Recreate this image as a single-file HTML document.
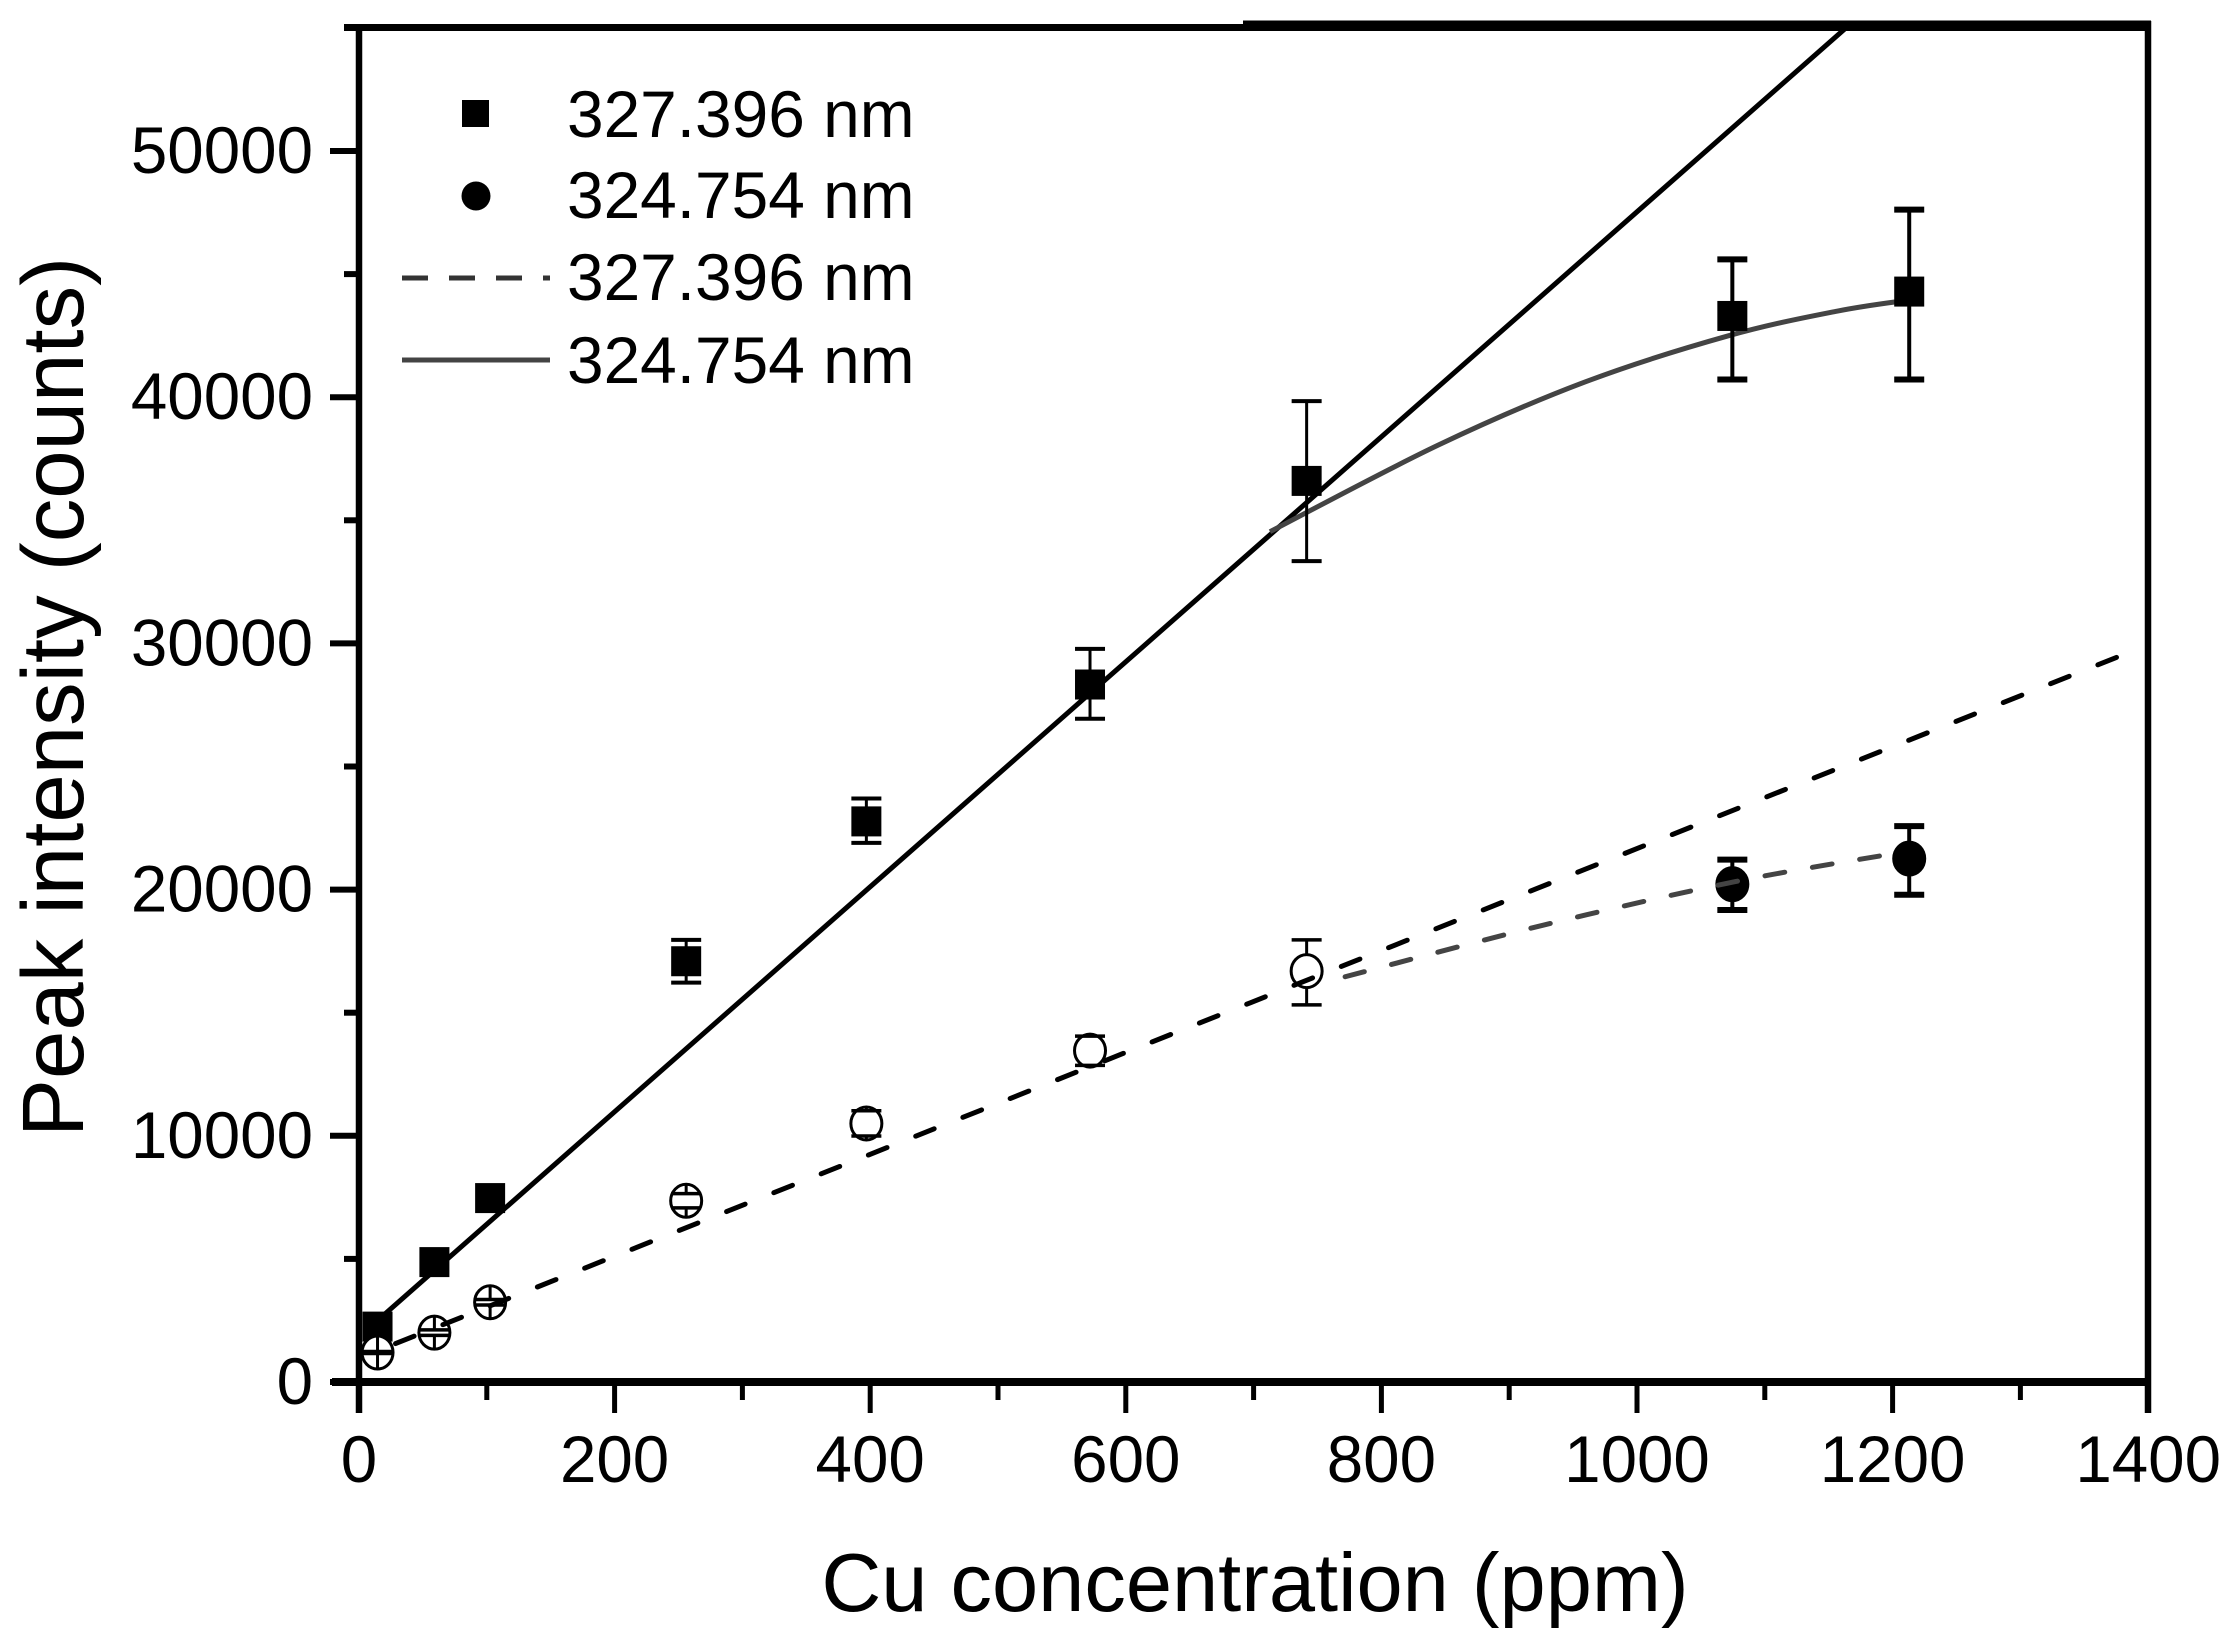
<!DOCTYPE html>
<html lang="en">
<head>
<meta charset="utf-8">
<title>Peak intensity vs Cu concentration</title>
<style>
html,body{margin:0;padding:0;background:#fff;}
svg{display:block;}
text{font-family:"Liberation Sans",sans-serif;fill:#000;}
</style>
</head>
<body>
<svg id="chart" xmlns="http://www.w3.org/2000/svg" width="2232" height="1649" viewBox="0 0 2232 1649">
  <rect x="0" y="0" width="2232" height="1649" fill="#fff"/>
  <g id="fits"></g>
  <g id="squares"></g>
  <g id="circles"></g>
  <g id="dashes"></g>
  <g id="axes"></g>
  <text x="1255" y="1611" font-size="83" text-anchor="middle">Cu concentration (ppm)</text>
  <text transform="translate(83,697) rotate(-90)" font-size="87" text-anchor="middle">Peak intensity (counts)</text>
  <g>
    <rect x="462" y="100" width="27" height="27" fill="#000"/>
    <text x="567" y="137" font-size="65.8">327.396 nm</text>
    <ellipse cx="476" cy="196" rx="14.5" ry="14.5" fill="#000"/>
    <text x="567" y="218" font-size="65.8">324.754 nm</text>
    <line x1="402" y1="278" x2="550" y2="278" stroke="#333" stroke-width="5" stroke-dasharray="26 21"/>
    <text x="567" y="300" font-size="65.8">327.396 nm</text>
    <line x1="402" y1="360" x2="550" y2="360" stroke="#444" stroke-width="5"/>
    <text x="567" y="383" font-size="65.8">324.754 nm</text>
  </g>
</svg>
<script>
// Chart data
const concentrations = [14.5, 59, 102.6, 256, 397, 572, 741.5, 1074.6, 1213];
const squareValues = [2250, 4870, 7470, 17090, 22770, 28330, 36600, 43300, 44290];
const squareErrLow = [2050, 4700, 7300, 16220, 21900, 26940, 33340, 40720, 40720];
const squareErrHigh = [2450, 5040, 7640, 17960, 23700, 29780, 39840, 45600, 47620];
const circleValues = [1198, 2004, 3240, 7360, 10500, 13460, 16690, 20220, 21260];
const circleErrLow = [1160, 1895, 3130, 7070, 9990, 12860, 15320, 19170, 19790];
const circleErrHigh = [1240, 2115, 3350, 7650, 11020, 14050, 17960, 21220, 22580];
const circleFilled = [false, false, false, false, false, false, false, true, true];

const fitSolidX = [14.5, 1163.5];
const fitSolidY = [2500, 55000];
const fitCurveX = [712.8, 844.6, 959.9, 1071.8, 1157, 1213];
const fitCurveY = [34537, 38058, 40630, 42498, 43500, 43950];
const fitDashX = [14.5, 1380];
const fitDashY = [1270, 29530];
const fitDashCurveX = [771.6, 927, 1077, 1203];
const fitDashCurveY = [16460, 18560, 20325, 21480];

const xMajorTicks = [0, 200, 400, 600, 800, 1000, 1200, 1400];
const xMinorTicks = [100, 300, 500, 700, 900, 1100, 1300];
const yMajorTicks = [0, 10000, 20000, 30000, 40000, 50000];
const yMinorTicks = [5000, 15000, 25000, 35000, 45000];

const NS = 'http://www.w3.org/2000/svg';
function xScale(v) { return 359 + v * 1.278; }
function yScale(v) { return 1382 - v * 0.02462; }
function make(parent, tag, props) {
  const node = document.createElementNS(NS, tag);
  for (const k in props) node.setAttribute(k, props[k]);
  parent.appendChild(node);
  return node;
}
function smoothPath(xs, ys) {
  const p = xs.map((x, i) => [xScale(x), yScale(ys[i])]);
  let d = 'M' + p[0][0] + ' ' + p[0][1];
  for (let i = 0; i < p.length - 1; i++) {
    const a = p[Math.max(i - 1, 0)], b = p[i], c = p[i + 1], e = p[Math.min(i + 2, p.length - 1)];
    d += ' C' + (b[0] + (c[0] - a[0]) / 6) + ' ' + (b[1] + (c[1] - a[1]) / 6) + ' ' +
      (c[0] - (e[0] - b[0]) / 6) + ' ' + (c[1] - (e[1] - b[1]) / 6) + ' ' + c[0] + ' ' + c[1];
  }
  return d;
}
function errorBar(parent, x, lo, hi, w, sw) {
  const cx = xScale(x);
  const stem = make(parent, 'line', {x1: cx, x2: cx, y1: yScale(lo), y2: yScale(hi), stroke: '#000', 'stroke-width': sw});
  
  
  errorCaps(parent, x, lo, hi, w);
}
function errorCaps(parent, x, lo, hi, w) {
  const cx = xScale(x);
  const capLow = make(parent, 'line', {x1: cx - 15, x2: cx + 15, y1: yScale(lo), y2: yScale(lo), stroke: '#000', 'stroke-width': w});
  
  
  const capHigh = make(parent, 'line', {x1: cx - 15, x2: cx + 15, y1: yScale(hi), y2: yScale(hi), stroke: '#000', 'stroke-width': w});
  
  
}

const fits = document.getElementById('fits');
const squares = document.getElementById('squares');
const circles = document.getElementById('circles');
const dashes = document.getElementById('dashes');
const axes = document.getElementById('axes');

const solidFit = make(fits, 'path', {d: smoothPath(fitSolidX, fitSolidY), fill: 'none', stroke: '#000', 'stroke-width': 5});


const curveFit = make(fits, 'path', {d: smoothPath(fitCurveX, fitCurveY), fill: 'none', stroke: '#444', 'stroke-width': 5});



concentrations.forEach((c, i) => {
  if (i >= 3) errorBar(squares, c, squareErrLow[i], squareErrHigh[i], i >= 7 ? 6 : 4, i >= 7 ? 4 : 3);
  const sq = make(squares, 'rect', {x: xScale(c) - 15, y: yScale(squareValues[i]) - 15, width: 30, height: 30, fill: '#000'});
  
  
});

const circleRadiusY = 16.5;
concentrations.forEach((c, i) => {
  const cx = xScale(c), cy = yScale(circleValues[i]);
  const dot = make(circles, 'ellipse', {
    cx: cx, cy: cy, rx: 15.5, ry: circleRadiusY,
    fill: circleFilled[i] ? '#000' : '#fff', stroke: '#000', 'stroke-width': 3
  });
  
  
  // whiskers run from each cap to the circle edge; the space between the caps stays clear
  const whiskerTop = make(circles, 'line', {x1: cx, x2: cx, y1: yScale(circleErrHigh[i]), y2: cy - circleRadiusY, stroke: '#000', 'stroke-width': i >= 7 ? 4 : 3});
  
  
  const whiskerBottom = make(circles, 'line', {x1: cx, x2: cx, y1: yScale(circleErrLow[i]), y2: cy + circleRadiusY, stroke: '#000', 'stroke-width': i >= 7 ? 4 : 3});
  
  
  errorCaps(circles, c, circleErrLow[i], circleErrHigh[i], i >= 7 ? 6 : 3.5);
});

const dashFit = make(dashes, 'path', {d: smoothPath(fitDashX, fitDashY), fill: 'none', stroke: '#000', 'stroke-width': 5, 'stroke-linecap': 'round', 'stroke-dasharray': '20 30.9', 'stroke-dashoffset': 31.4});


const dashCurve = make(dashes, 'path', {d: smoothPath(fitDashCurveX, fitDashCurveY), fill: 'none', stroke: '#444', 'stroke-width': 5, 'stroke-linecap': 'round', 'stroke-dasharray': '20 28'});



// Frame
const frameLeft = make(axes, 'line', {x1: 359, x2: 359, y1: 24, y2: 1413, stroke: '#000', 'stroke-width': 6.5});


const frameBottom = make(axes, 'line', {x1: 332, x2: 2151, y1: 1382, y2: 1382, stroke: '#000', 'stroke-width': 8});


const frameRight = make(axes, 'line', {x1: 2148, x2: 2148, y1: 21, y2: 1413, stroke: '#000', 'stroke-width': 6.5});


const frameTopA = make(axes, 'rect', {x: 344, y: 24, width: 900, height: 7, fill: '#000'});


const frameTopB = make(axes, 'rect', {x: 1243, y: 20.5, width: 908, height: 10.5, fill: '#000'});



// Ticks
xMajorTicks.forEach(v => {
  const t = make(axes, 'line', {x1: xScale(v), x2: xScale(v), y1: 1382, y2: 1413, stroke: '#000', 'stroke-width': 5});
  
  
  const label = make(axes, 'text', {x: xScale(v), y: 1482, 'font-size': 65.5, 'text-anchor': 'middle'});
  label.textContent = String(v);
  
  
});
xMinorTicks.forEach(v => {
  const t = make(axes, 'line', {x1: xScale(v), x2: xScale(v), y1: 1382, y2: 1400, stroke: '#000', 'stroke-width': 5});
  
  
});
yMajorTicks.forEach(v => {
  const t = make(axes, 'line', {x1: 330, x2: 359, y1: yScale(v), y2: yScale(v), stroke: '#000', 'stroke-width': 6});
  
  
  const label = make(axes, 'text', {x: 313, y: yScale(v) + 22, 'font-size': 65.5, 'text-anchor': 'end'});
  label.textContent = String(v);
  
  
});
yMinorTicks.forEach(v => {
  const t = make(axes, 'line', {x1: 344, x2: 359, y1: yScale(v), y2: yScale(v), stroke: '#000', 'stroke-width': 6});
  
  
});
</script>
</body>
</html>
